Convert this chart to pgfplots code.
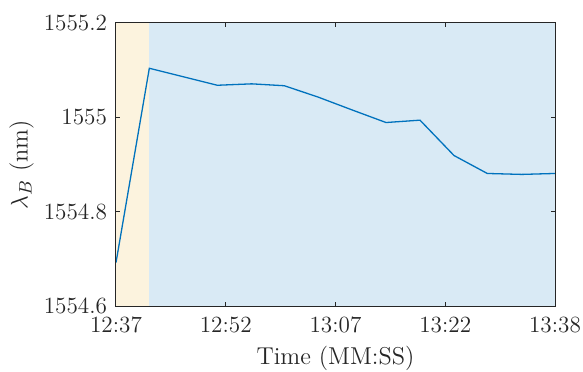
\documentclass[border=0pt]{standalone}
\usepackage{pgfplots}
\pgfplotsset{compat=1.18}
\definecolor{mblue}{HTML}{0072BD}
\definecolor{shadeO}{RGB}{252,243,222}
\definecolor{shadeB}{RGB}{217,234,245}
\definecolor{axgray}{HTML}{262626}
\begin{document}
\begin{tikzpicture}
\begin{axis}[
  scale only axis,
  width=219.5pt, height=141.5pt,
  at={(0pt,0pt)}, anchor=south west,
  xmin=0, xmax=61, ymin=1554.6, ymax=1555.2,
  xtick={0,15.25,30.5,45.75,61},
  xticklabels={\mbox{12:37},\mbox{12:52},\mbox{13:07},\mbox{13:22},\mbox{13:38}},
  ytick={1554.6,1554.8,1555,1555.2},
  yticklabels={1554.6,1554.8,1555,1555.2},
  tick align=inside,
  major tick length=2.2pt,
  axis line style={axgray, line width=0.5pt},
  tick style={axgray, line width=0.5pt},
  axis on top,
  ticklabel style={font=\fontsize{11.6}{13}\selectfont, text=axgray},
  xticklabel style={yshift=-2.0pt},
  yticklabel style={xshift=-1.0pt},
  xlabel={Time (MM:SS)},
  ylabel={$\lambda_B$ (nm)},
  every axis x label/.style={at={(rel axis cs:0.5,0)}, anchor=center, yshift=-26.2pt,
     font=\fontsize{12.2}{14}\selectfont, text=axgray},
  every axis y label/.style={at={(rel axis cs:0,0.5)}, anchor=center, rotate=90, yshift=47.2pt,
     font=\fontsize{12.2}{14}\selectfont, text=axgray},
]
\addplot[fill=shadeO, draw=none] coordinates {(0,1554.6) (4.63,1554.6) (4.63,1555.2) (0,1555.2)} -- cycle;
\addplot[fill=shadeB, draw=none] coordinates {(4.63,1554.6) (61,1554.6) (61,1555.2) (4.63,1555.2)} -- cycle;
\addplot[mblue, line width=0.65pt] coordinates {
(0,1554.692)
(4.63,1555.104)
(14.08,1555.068)
(18.86,1555.071)
(23.39,1555.067)
(28.07,1555.043)
(32.75,1555.016)
(37.52,1554.989)
(42.24,1554.994)
(46.97,1554.919)
(51.59,1554.881)
(56.37,1554.879)
(61,1554.881)
};
\end{axis}
\pgfresetboundingbox
\path[use as bounding box] (-58pt,-32.5pt) rectangle (233.5pt,153pt);
\end{tikzpicture}
\end{document}
